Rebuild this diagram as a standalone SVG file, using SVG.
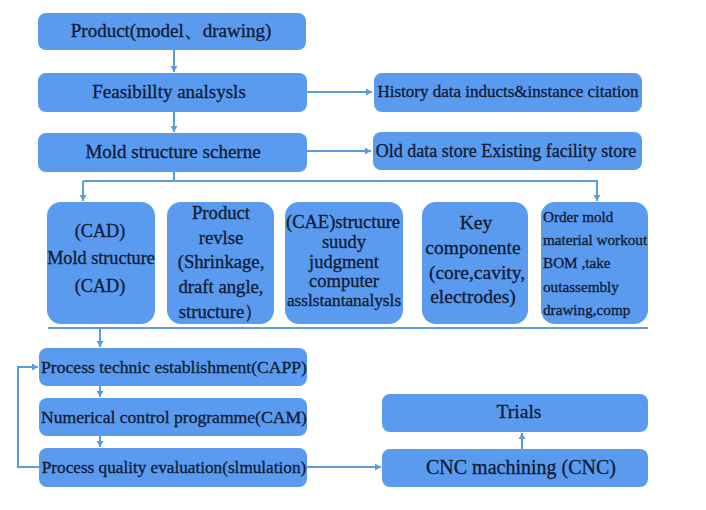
<svg xmlns="http://www.w3.org/2000/svg" width="706" height="510" viewBox="0 0 706 510">
<defs>
<marker id="ah" markerWidth="8" markerHeight="8" refX="6" refY="4" orient="auto" markerUnits="userSpaceOnUse">
<path d="M0,0.5 L6,4 L0,7.5 Z" fill="#5b9be0"/>
</marker>
<style>
.b{fill:#5a9bef;}
text{font-family:'Liberation Serif','Times New Roman',serif;font-size:18.5px;fill:#101a35;stroke:#101a35;stroke-width:0.3;text-anchor:middle;}
.top{font-size:19px;}
.a{font-size:18.2px;}
.p{font-size:18.7px;}
.e{font-size:18.5px;}
.k{font-size:19.5px;}
.l{text-anchor:start;font-size:15.2px;}
.c{fill:none;stroke:#5b9be0;stroke-width:2;}
</style>
</defs>
<rect width="706" height="510" fill="#ffffff"/>
<g id="connectors">
<line class="c" x1="174" y1="50" x2="174" y2="72" marker-end="url(#ah)"/>
<line class="c" x1="174" y1="112" x2="174" y2="132" marker-end="url(#ah)"/>
<line class="c" x1="307" y1="92" x2="372" y2="92" marker-end="url(#ah)"/>
<line class="c" x1="307" y1="151" x2="371" y2="151" marker-end="url(#ah)"/>
<polyline class="c" points="174,172 174,181"/>
<polyline class="c" points="83,181 597,181 597,201" marker-end="url(#ah)"/>
<line class="c" x1="83" y1="181" x2="83" y2="201" marker-end="url(#ah)"/>
<line class="c" x1="48" y1="328" x2="648" y2="328"/>
<line class="c" x1="100" y1="328" x2="100" y2="347" marker-end="url(#ah)"/>
<line class="c" x1="100" y1="386" x2="100" y2="397" marker-end="url(#ah)"/>
<line class="c" x1="100" y1="436" x2="100" y2="447" marker-end="url(#ah)"/>
<polyline class="c" points="39,467 18,467 18,367 38,367" marker-end="url(#ah)"/>
<line class="c" x1="307" y1="467" x2="381" y2="467" marker-end="url(#ah)"/>
<line class="c" x1="522" y1="449" x2="522" y2="433" marker-end="url(#ah)"/>
</g>
<g id="product"><rect class="b" x="38" y="13" width="268" height="37" rx="8"/><text class="top" x="171" y="37">Product(model、drawing)</text></g>
<g id="feasibility"><rect class="b" x="38" y="73" width="269" height="39" rx="8"/><text class="top" x="169" y="98">Feasibillty analsysls</text></g>
<g id="mold-scheme"><rect class="b" x="38" y="133" width="269" height="39" rx="8"/><text class="top" x="173" y="158">Mold structure scherne</text></g>
<g id="history"><rect class="b" x="374" y="73" width="268" height="39" rx="8"/><text style="font-size:17px" x="508" y="97">History data inducts&amp;instance citation</text></g>
<g id="old-data"><rect class="b" x="373" y="132" width="269" height="38" rx="8"/><text style="font-size:18px" x="506" y="157">Old data store Existing facility store</text></g>
<g id="cad"><rect class="b" x="47" y="202" width="108" height="122" rx="14"/>
<text class="a" x="100" y="237">(CAD)</text><text class="a" x="101" y="264">Mold structure</text><text class="a" x="100" y="292">(CAD)</text></g>
<g id="product-revise"><rect class="b" x="167" y="202" width="107" height="122" rx="14"/>
<text class="p" x="221" y="219">Product</text><text class="p" x="221" y="244">revlse</text><text class="p" x="221" y="268">(Shrinkage,</text><text class="p" x="221" y="293">draft angle,</text><text class="p" x="221" y="318">structure）</text></g>
<g id="cae"><rect class="b" x="285" y="202" width="118" height="122" rx="14"/>
<text class="e" x="343" y="228">(CAE)structure</text><text class="e" x="344" y="248">suudy</text><text class="e" x="344" y="268">judgment</text><text class="e" x="344" y="287">computer</text><text style="font-size:17.3px" x="344" y="306">asslstantanalysls</text></g>
<g id="key-components"><rect class="b" x="422" y="202" width="106" height="122" rx="14"/>
<text class="k" x="476" y="229">Key</text><text class="k" x="473" y="254">componente</text><text class="k" x="477" y="279">(core,cavity,</text><text class="k" x="473" y="303">electrodes)</text></g>
<g id="order"><rect class="b" x="541" y="202" width="107" height="122" rx="14"/>
<text class="l" x="543" y="222">Order mold</text><text class="l" x="543" y="245">material workout</text><text class="l" x="543" y="268">BOM ,take</text><text class="l" x="543" y="292">outassembly</text><text class="l" x="543" y="315">drawing,comp</text></g>
<g id="capp"><rect class="b" x="39" y="348" width="268" height="38" rx="8"/><text style="font-size:17.6px" x="174" y="373">Process technic establishment(CAPP)</text></g>
<g id="cam"><rect class="b" x="39" y="398" width="268" height="38" rx="8"/><text style="font-size:17.6px" x="174" y="423">Numerical control programme(CAM)</text></g>
<g id="quality"><rect class="b" x="39" y="448" width="268" height="39" rx="8"/><text style="font-size:17.2px" x="174" y="473">Process quality evaluation(slmulation)</text></g>
<g id="trials"><rect class="b" x="382" y="394" width="266" height="38" rx="8"/><text style="font-size:19.5px" x="519" y="418">Trials</text></g>
<g id="cnc"><rect class="b" x="382" y="449" width="266" height="38" rx="8"/><text style="font-size:20px" x="521" y="474">CNC machining (CNC)</text></g>
</svg>
